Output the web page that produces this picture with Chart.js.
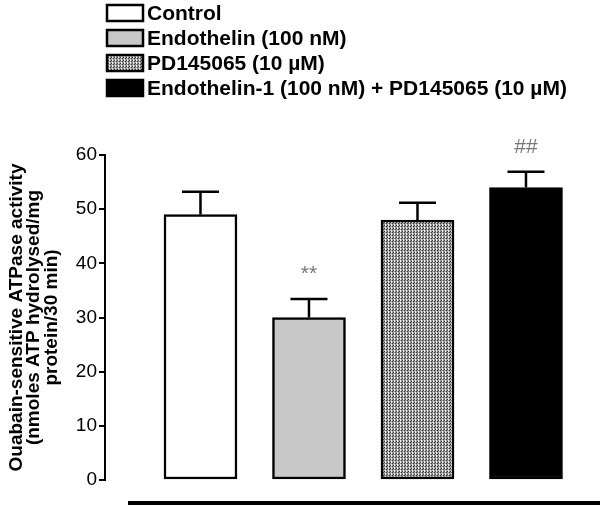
<!DOCTYPE html>
<html>
<head>
<meta charset="utf-8">
<script src="https://cdn.jsdelivr.net/npm/chart.js@4.4.1/dist/chart.umd.min.js"></script>
<style>
html,body{margin:0;padding:0;background:#fff;}
#wrap{width:600px;height:507px;}
</style>
</head>
<body>
<div id="wrap"><canvas id="c" width="600" height="507"></canvas></div>
<script>
// ---- data ----
const categories = ['Control', 'Endothelin (100 nM)', 'PD145065 (10 \u00b5M)', 'Endothelin-1 (100 nM) + PD145065 (10 \u00b5M)'];
const positions = [1, 2, 3, 4];
const means = [49, 30, 48, 54];
const sem = [4.2, 3.4, 3.2, 2.9];
const signif = ['', '**', '', '##'];
const yTitle = ['Ouabain-sensitive ATPase activity', '(nmoles ATP hydrolysed/mg', 'protein/30 min)'];

// ---- styles ----
function makePattern() {
  const p = document.createElement('canvas');
  p.width = 3; p.height = 3;
  const g = p.getContext('2d');
  g.fillStyle = '#9a9a9a'; g.fillRect(0, 0, 3, 3);
  g.fillStyle = '#3c3c3c'; g.fillRect(0, 0, 1, 1); g.fillRect(2, 1, 1, 1);
  g.fillStyle = '#f2f2f2'; g.fillRect(1, 2, 1, 1); g.fillRect(1, 0, 1, 1);
  return g.createPattern(p, 'repeat');
}
const ctx0 = document.getElementById('c').getContext('2d');
const fills = ['#ffffff', '#c8c8c8', makePattern(), '#000000'];

const FONT = '"Liberation Sans", Arial, sans-serif';

const legendPlugin = {
  id: 'customLegend',
  afterDraw(chart) {
    const ctx = chart.ctx;
    ctx.save();
    categories.forEach((lab, i) => {
      const cy = 13 + i * 25;
      ctx.fillStyle = fills[i];
      ctx.fillRect(107, cy - 8, 36, 16);
      ctx.lineWidth = 2.5;
      ctx.strokeStyle = '#000';
      ctx.strokeRect(107, cy - 8, 36, 16);
      ctx.fillStyle = '#000';
      ctx.font = 'bold 21px ' + FONT;
      ctx.textBaseline = 'middle';
      ctx.textAlign = 'left';
      ctx.fillText(lab, 147, cy + 1);
    });
    ctx.restore();
  }
};

const errorPlugin = {
  id: 'errorBars',
  afterDatasetsDraw(chart) {
    const ctx = chart.ctx;
    const xs = chart.scales.x, ys = chart.scales.y;
    ctx.save();
    ctx.strokeStyle = '#000';
    ctx.lineWidth = 2.5;
    positions.forEach((p, i) => {
      const x = xs.getPixelForValue(p);
      const yb = ys.getPixelForValue(means[i]);
      const yt = ys.getPixelForValue(means[i] + sem[i]);
      ctx.beginPath();
      ctx.moveTo(x, yb); ctx.lineTo(x, yt);
      ctx.moveTo(x - 18.5, yt); ctx.lineTo(x + 18.5, yt);
      ctx.stroke();
      if (signif[i]) {
        ctx.fillStyle = '#777';
        ctx.font = '21px ' + FONT;
        ctx.textAlign = 'center';
        ctx.textBaseline = 'middle';
        ctx.fillText(signif[i], x, yt - 25);
      }
    });
    // baseline bar under the groups
    const a = chart.chartArea;
    ctx.lineWidth = 4;
    ctx.beginPath();
    ctx.moveTo(128, a.bottom + 23);
    ctx.lineTo(600, a.bottom + 23);
    ctx.stroke();
    ctx.restore();
  }
};

new Chart(ctx0, {
  type: 'bar',
  data: {
    datasets: [{
      data: positions.map((x, i) => ({ x: x, y: means[i] })),
      backgroundColor: fills,
      borderColor: '#000',
      borderWidth: 2.5,
      borderSkipped: false,
      barThickness: 73
    }]
  },
  options: {
    responsive: false,
    animation: false,
    devicePixelRatio: 1,
    layout: { padding: { top: 155, right: 10, bottom: 27, left: 0 } },
    plugins: { legend: { display: false }, tooltip: { enabled: false } },
    scales: {
      x: { type: 'linear', min: 0.12, max: 4.59, offset: false, display: false },
      y: {
        min: 0, max: 60,
        ticks: { stepSize: 10, color: '#000', font: { family: FONT, size: 19 }, padding: 2 },
        grid: { display: true, drawOnChartArea: false, drawTicks: true, tickLength: 6, color: '#000', lineWidth: 2 },
        border: { display: true, color: '#000', width: 2 },
        title: {
          display: true, text: yTitle, color: '#000',
          font: { family: FONT, size: 19, weight: 'bold', lineHeight: 0.92 },
          padding: { top: 8, bottom: 0 }
        },
        afterFit(s) { s.width = 105; }
      }
    }
  },
  plugins: [errorPlugin, legendPlugin]
});
</script>
</body>
</html>
